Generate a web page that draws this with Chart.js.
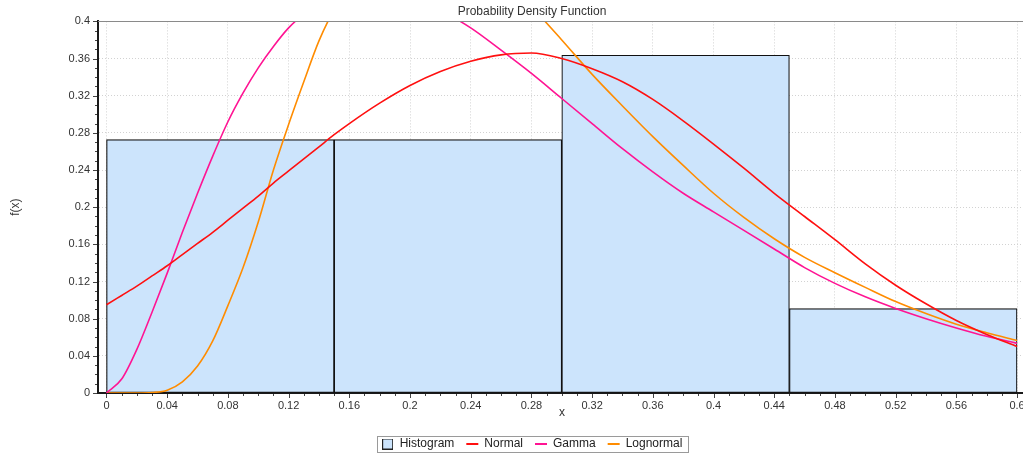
<!DOCTYPE html>
<html>
<head>
<meta charset="utf-8">
<title>Probability Density Function</title>
<script src="https://cdn.jsdelivr.net/npm/chart.js@4.4.1/dist/chart.umd.min.js"></script>
<style>
  html, body { margin: 0; padding: 0; overflow: hidden; background: #ffffff; }
  #wrap { width: 1064px; height: 458px; }
</style>
</head>
<body>
<div id="wrap"><canvas id="pdf" width="1064" height="458"></canvas></div>
<script>
// Sample positions of the fitted density curves
const xs = [0, 0.01, 0.02, 0.03, 0.04, 0.05, 0.06, 0.07, 0.08, 0.09, 0.10, 0.11, 0.12, 0.13, 0.14, 0.15, 0.16,
            0.18, 0.20, 0.22, 0.24, 0.26, 0.28, 0.30, 0.32, 0.34, 0.36, 0.38, 0.40, 0.42, 0.44, 0.46, 0.48,
            0.50, 0.52, 0.54, 0.56, 0.58, 0.60];

// Fitted densities (scaled to the bin width)
const normalPdf = [0.095, 0.105, 0.115, 0.126, 0.137, 0.149, 0.161, 0.173, 0.186, 0.199, 0.212, 0.226, 0.239, 0.252, 0.265, 0.278, 0.290,
                   0.312, 0.331, 0.346, 0.357, 0.364, 0.366, 0.360, 0.349, 0.335, 0.316, 0.293, 0.268, 0.242, 0.215, 0.190, 0.165,
                   0.139, 0.116, 0.096, 0.078, 0.063, 0.050];
const gammaPdf = [0, 0.015, 0.047, 0.087, 0.129, 0.173, 0.215, 0.255, 0.292, 0.323, 0.350, 0.373, 0.393, 0.408, 0.420, 0.428, 0.433,
                  0.435, 0.427, 0.412, 0.393, 0.369, 0.344, 0.317, 0.290, 0.263, 0.238, 0.215, 0.195, 0.175, 0.155, 0.135, 0.118,
                  0.1035, 0.091, 0.080, 0.070, 0.061, 0.0534];
const lognormalPdf = [0, 0, 0, 0.0005, 0.003, 0.012, 0.029, 0.056, 0.094, 0.135, 0.184, 0.240, 0.289, 0.335, 0.379, 0.413, 0.440,
                      0.480, 0.496, 0.493, 0.476, 0.449, 0.416, 0.380, 0.343, 0.309, 0.276, 0.245, 0.215, 0.189, 0.166, 0.146, 0.1295,
                      0.1137, 0.0984, 0.0855, 0.074, 0.0648, 0.0565];

// Histogram bins (relative frequencies)
const binEdges = [0, 0.15, 0.3, 0.45, 0.6];
const binHeights = [0.2727, 0.2727, 0.3636, 0.0909];

// Axis ticks
const xTickValues = [0, 0.04, 0.08, 0.12, 0.16, 0.2, 0.24, 0.28, 0.32, 0.36, 0.4, 0.44, 0.48, 0.52, 0.56, 0.6];
const xTickLabels = ['0', '0.04', '0.08', '0.12', '0.16', '0.2', '0.24', '0.28', '0.32', '0.36', '0.4', '0.44', '0.48', '0.52', '0.56', '0.6'];
const yTickValues = [0, 0.04, 0.08, 0.12, 0.16, 0.2, 0.24, 0.28, 0.32, 0.36, 0.4];
const yTickLabels = ['0', '0.04', '0.08', '0.12', '0.16', '0.2', '0.24', '0.28', '0.32', '0.36', '0.4'];
const xRange = [-0.0056, 0.6059];
const yRange = [0, 0.4];

const seriesNames = ['Histogram', 'Normal', 'Gamma', 'Lognormal'];
const seriesColors = ['#cce4fc', '#ff1010', '#ff1493', '#ff8c00'];

Chart.defaults.font.family = "'Liberation Sans', Arial, Helvetica, sans-serif";
Chart.defaults.color = '#333333';

// Legend marker for the histogram: small filled square with a dark outline
const histIcon = document.createElement('canvas');
histIcon.width = 11; histIcon.height = 11;
(function () {
  const c = histIcon.getContext('2d');
  c.fillStyle = seriesColors[0];
  c.fillRect(0, 0, 11, 11);
  c.strokeStyle = '#222222';
  c.lineWidth = 1;
  c.strokeRect(0.5, 0.5, 10, 10);
})();

const binCenters = binHeights.map((_, i) => (binEdges[i] + binEdges[i + 1]) / 2);
const toPoints = arr => xs.map((x, i) => ({ x: x, y: arr[i] }));

// Minor/major tick marks on both axes, plot frame top line and legend frame
const axisDecor = {
  id: 'axisDecor',
  afterDatasetsDraw(chart) {
    const { ctx, chartArea } = chart;
    ctx.save();
    ctx.strokeStyle = '#8a8a8a';
    ctx.lineWidth = 1;
    ctx.beginPath();
    ctx.moveTo(chartArea.left, Math.round(chartArea.top) + 0.5);
    ctx.lineTo(chartArea.right, Math.round(chartArea.top) + 0.5);
    ctx.stroke();
    ctx.restore();
  },
  afterDraw(chart) {
    const { ctx, chartArea } = chart;
    const sx = chart.scales.x, sy = chart.scales.y;
    ctx.save();
    ctx.strokeStyle = '#444444';
    ctx.lineWidth = 1;
    for (let k = 0; k <= 60; k++) {
      const px = Math.round(sx.getPixelForValue(k / 100)) + 0.5;
      const len = k % 4 === 0 ? 4 : 2;
      ctx.beginPath();
      ctx.moveTo(px, chartArea.bottom + 1);
      ctx.lineTo(px, chartArea.bottom + 1 + len);
      ctx.stroke();
    }
    for (let k = 0; k <= 40; k++) {
      const py = Math.round(sy.getPixelForValue(k / 100)) + 0.5;
      const len = k % 4 === 0 ? 4 : 2;
      ctx.beginPath();
      ctx.moveTo(chartArea.left - 1, py);
      ctx.lineTo(chartArea.left - 1 - len, py);
      ctx.stroke();
    }
    // frame around the legend items
    const boxes = chart.legend && chart.legend.legendHitBoxes;
    if (boxes && boxes.length) {
      const l = Math.min(...boxes.map(b => b.left)) - 5;
      const r = Math.max(...boxes.map(b => b.left + b.width)) + 5;
      const t = Math.min(...boxes.map(b => b.top)) - 2;
      const b = Math.max(...boxes.map(b => b.top + b.height)) + 2;
      ctx.strokeStyle = '#9a9a9a';
      ctx.strokeRect(Math.round(l) + 0.5, Math.round(t) + 0.5, Math.round(r - l), Math.round(b - t));
    }
    ctx.restore();
  }
};

new Chart(document.getElementById('pdf'), {
  type: 'line',
  data: {
    datasets: [
      {
        type: 'bar',
        label: seriesNames[0],
        xAxisID: 'xBins',
        yAxisID: 'y',
        data: binCenters.map((c, i) => ({ x: c, y: binHeights[i] })),
        backgroundColor: seriesColors[0],
        borderColor: '#111111',
        borderWidth: 1.2,
        borderSkipped: false,
        grouped: false,
        barPercentage: 1,
        categoryPercentage: 1,
        order: 5
      },
      {
        label: seriesNames[1], data: toPoints(normalPdf),
        borderColor: seriesColors[1], backgroundColor: seriesColors[1],
        borderWidth: 1.6, pointRadius: 0, cubicInterpolationMode: 'monotone', clip: 0, order: 1
      },
      {
        label: seriesNames[2], data: toPoints(gammaPdf),
        borderColor: seriesColors[2], backgroundColor: seriesColors[2],
        borderWidth: 1.6, pointRadius: 0, cubicInterpolationMode: 'monotone', clip: 0, order: 2
      },
      {
        label: seriesNames[3], data: toPoints(lognormalPdf),
        borderColor: seriesColors[3], backgroundColor: seriesColors[3],
        borderWidth: 1.6, pointRadius: 0, cubicInterpolationMode: 'monotone', clip: 0, order: 3
      }
    ]
  },
  options: {
    responsive: false,
    animation: false,
    events: [],
    layout: { padding: { left: 0, right: 0, top: 0, bottom: -2 } },
    scales: {
      x: {
        type: 'linear',
        min: xRange[0], max: xRange[1],
        afterBuildTicks: s => { s.ticks = xTickValues.map(v => ({ value: v })); },
        afterFit: s => { s.height = 33; s.paddingLeft = 0; s.paddingRight = 0; },
        ticks: {
          callback: (v, i) => xTickLabels[i],
          color: '#333333', font: { size: 11 }, padding: 6,
          maxRotation: 0, autoSkip: false
        },
        grid: { color: '#d2d2d2', drawTicks: false },
        border: { color: '#1a1a1a', width: 2, dash: [1, 2] },
        title: { display: true, text: 'x', color: '#333333', font: { size: 12 }, padding: { top: 0, bottom: 6 } }
      },
      xBins: {
        type: 'linear',
        display: false,
        offset: false,
        min: xRange[0], max: xRange[1],
        grid: { offset: false },
        afterBuildTicks: s => { s.ticks = binEdges.map(v => ({ value: v })); }
      },
      y: {
        type: 'linear',
        position: 'left',
        min: yRange[0], max: yRange[1],
        afterBuildTicks: s => { s.ticks = yTickValues.map(v => ({ value: v })); },
        afterFit: s => { s.width = 98; s.paddingTop = 0; s.paddingBottom = 0; },
        ticks: { callback: (v, i) => yTickLabels[i], color: '#333333', font: { size: 11 }, padding: 8 },
        grid: { color: '#d2d2d2', drawTicks: false },
        border: { color: '#1a1a1a', width: 2, dash: [1, 2] },
        title: { display: true, text: 'f(x)', color: '#333333', font: { size: 12 }, padding: { top: 8, bottom: 0 } }
      },
      yRight: {
        type: 'linear',
        position: 'right',
        display: true,
        ticks: { display: false },
        grid: { display: false, drawTicks: false },
        border: { display: false },
        afterFit: s => { s.width = 38; }
      }
    },
    plugins: {
      title: {
        display: true,
        text: 'Probability Density Function',
        color: '#333333',
        font: { size: 12, weight: 'normal' },
        padding: { top: 4, bottom: 3 }
      },
      legend: {
        position: 'bottom',
        labels: {
          usePointStyle: true,
          pointStyleWidth: 12,
          padding: 12,
          color: '#222222',
          font: { size: 12 },
          sort: (a, b) => a.datasetIndex - b.datasetIndex,
          generateLabels(chart) {
            const items = Chart.defaults.plugins.legend.labels.generateLabels(chart);
            items.forEach(it => {
              if (it.datasetIndex === 0) { it.pointStyle = histIcon; }
              else { it.pointStyle = 'line'; it.lineWidth = 2; }
            });
            return items;
          }
        }
      },
      tooltip: { enabled: false }
    }
  },
  plugins: [axisDecor]
});
</script>
</body>
</html>
